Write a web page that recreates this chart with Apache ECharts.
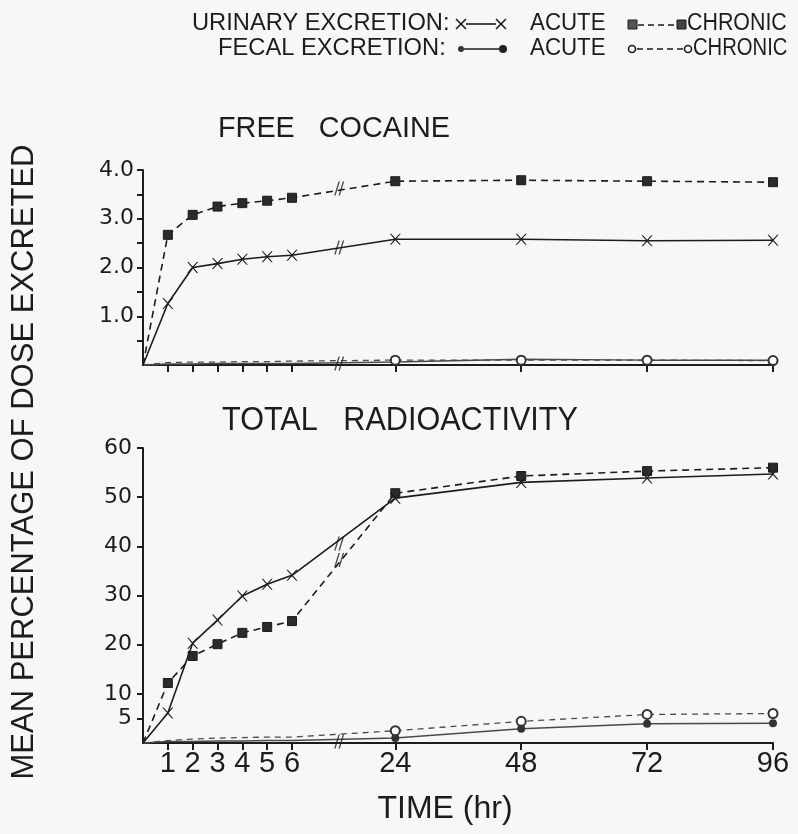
<!DOCTYPE html>
<html>
<head>
<meta charset="utf-8">
<script src="https://cdn.jsdelivr.net/npm/echarts@6/dist/echarts.min.js"></script>
<style>
html,body{margin:0;padding:0;background:#f7f7f5;}
#chart{width:798px;height:834px;}
</style>
</head>
<body>
<div id="chart"></div>
<script>
// ---- data ----
const hours = [0, 1, 2, 3, 4, 5, 6, 24, 48, 72, 96];
const tickHours = [1, 2, 3, 4, 5, 6, 24, 48, 72, 96];
const tickLabels = ['1', '2', '3', '4', '5', '6', '24', '48', '72', '96'];

// Free cocaine (% of dose)
const urinaryAcuteFree   = [0, 1.26, 2.00, 2.08, 2.17, 2.22, 2.25, 2.58, 2.58, 2.55, 2.56];
const urinaryChronicFree = [0, 2.67, 3.08, 3.25, 3.32, 3.37, 3.43, 3.77, 3.79, 3.77, 3.75];
const fecalAcuteFree     = [0, 0.02, 0.02, 0.03, 0.03, 0.03, 0.03, 0.06, 0.12, 0.10, 0.10];
const fecalChronicFree   = [0, 0.05, 0.06, 0.06, 0.07, 0.07, 0.08, 0.10, 0.10, 0.10, 0.09];

// Total radioactivity (% of dose)
const urinaryAcuteTotal   = [0, 6.1, 20.3, 25.0, 29.9, 32.3, 34.1, 49.8, 53.0, 53.9, 54.7];
const urinaryChronicTotal = [0, 12.2, 17.7, 20.1, 22.4, 23.6, 24.8, 50.8, 54.3, 55.3, 56.0];
const fecalAcuteTotal     = [0, 0.3, 0.3, 0.4, 0.4, 0.5, 0.5, 1.0, 2.9, 3.9, 4.0];
const fecalChronicTotal   = [0, 0.5, 0.8, 1.0, 1.1, 1.2, 1.2, 2.5, 4.4, 5.8, 6.0];

// axis-break marks drawn on the curves (values read at the break)
const breakMarksFree  = [3.62, 2.41, 0.03];
const breakMarksTotal = [40.6, 37.2, 0.3];

const yTicksFree  = [0.5, 1, 1.5, 2, 2.5, 3, 3.5, 4];
const yLabelsFree = [1, 2, 3, 4];
const yTicksTotal = [5, 10, 20, 30, 40, 50, 60];

// ---- broken time axis: hours 0-6 expanded, 24-96 compressed ----
function pos(h) { return h <= 6 ? h : 10.16 + (h - 24) * 5.07 / 24; }
const BREAK_POS = 7.9;
const tickPos = tickHours.map(pos);

const INK = '#1c1c1c';
const FECAL = '#4a4a4a';
const BG = '#f7f7f5';
const xPath = 'path://M0,0 L2.4,0 L10,8.2 L17.6,0 L20,0 L11.3,10 L20,20 L17.6,20 L10,11.8 L2.4,20 L0,20 L8.7,10 Z';
const breakPath = 'path://M0,14 L1.6,14 L6.6,0 L5,0 Z M5,14 L6.6,14 L11.6,0 L10,0 Z';

function series(g, vals, kind) {
  const s = {
    type: 'line', xAxisIndex: g, yAxisIndex: g, animation: false, clip: false,
    data: hours.map((h, i) => [pos(h), vals[i]]),
    showSymbol: true
  };
  if (kind === 'ua') {
    Object.assign(s, { symbol: xPath, symbolSize: (v, p) => p.dataIndex === 0 ? 0 : 11,
      lineStyle: { color: INK, width: 1.6 }, itemStyle: { color: INK }, z: 5 });
  } else if (kind === 'uc') {
    Object.assign(s, { symbol: 'rect', symbolSize: (v, p) => p.dataIndex === 0 ? 0 : 9,
      lineStyle: { color: INK, width: 1.6, type: [7, 5] }, itemStyle: { color: '#2b2b2b', borderColor: INK, borderWidth: 1 }, z: 4 });
  } else if (kind === 'fa') {
    Object.assign(s, { symbol: 'circle', symbolSize: (v, p) => p.dataIndex < 7 ? 0 : 8,
      lineStyle: { color: FECAL, width: 1.5 }, itemStyle: { color: '#333' }, z: 3 });
  } else {
    Object.assign(s, { symbol: 'emptyCircle', symbolSize: (v, p) => p.dataIndex < 7 ? 0 : 9,
      lineStyle: { color: FECAL, width: 1.3, type: [6, 5] }, itemStyle: { color: '#333', borderWidth: 1.5 }, z: 4 });
  }
  return s;
}

function breakSeries(g, vals) {
  return {
    type: 'scatter', xAxisIndex: g, yAxisIndex: g, animation: false, clip: false,
    symbol: breakPath, symbolSize: [10, 14], itemStyle: { color: INK }, z: 8,
    data: vals.map(v => [BREAK_POS, v])
  };
}

function xAxis(g) {
  return {
    type: 'value', gridIndex: g, min: 0, max: pos(96),
    axisLine: { show: true, onZero: true, lineStyle: { color: INK, width: 2 } },
    axisTick: { show: true, customValues: tickPos, length: 7, lineStyle: { color: INK, width: 2 } },
    axisLabel: {
      show: g === 1, customValues: tickPos, margin: 6, color: INK,
      fontFamily: 'Liberation Sans', fontSize: 29,
      formatter: v => { const i = tickPos.findIndex(p => Math.abs(p - v) < 1e-6); return i >= 0 ? tickLabels[i] : ''; }
    },
    splitLine: { show: false }
  };
}

const chart = echarts.init(document.getElementById('chart'), null, { renderer: 'canvas' });

const legendFont = '23px "Liberation Sans", Arial, sans-serif';
function txt(text, x, y, font, sx) {
  return { type: 'text', x, y, scaleX: sx || 1,
    style: { text, font, fill: INK, align: 'left', verticalAlign: 'middle', textAlign: 'left', textVerticalAlign: 'middle' } };
}
function seg(x1, y1, x2, y2, dash, w) {
  return { type: 'line', shape: { x1, y1, x2, y2 }, style: { stroke: INK, lineWidth: w || 1.6, lineDash: dash || null } };
}

const graphics = [
  // legend line 1
  txt('URINARY EXCRETION:', 192, 24, legendFont, 1.03),
  seg(456, 19, 466, 29), seg(456, 29, 466, 19), seg(466, 24, 496, 24),
  seg(496, 19, 506, 29), seg(496, 29, 506, 19),
  txt('ACUTE', 530, 24, legendFont, 0.97),
  { type: 'rect', shape: { x: 628, y: 20, width: 9, height: 9 }, style: { fill: '#555', stroke: INK, lineWidth: 1 } },
  seg(638, 25, 677, 25, [6, 4]),
  { type: 'rect', shape: { x: 677, y: 20, width: 9, height: 9 }, style: { fill: '#444', stroke: INK, lineWidth: 1 } },
  txt('CHRONIC', 687, 24, legendFont, 0.93),
  // legend line 2
  txt('FECAL EXCRETION:', 218, 49, legendFont, 1.03),
  { type: 'circle', shape: { cx: 461, cy: 49, r: 3 }, style: { fill: '#333' } },
  seg(464, 49, 500, 49),
  { type: 'circle', shape: { cx: 503, cy: 49, r: 4 }, style: { fill: '#222' } },
  txt('ACUTE', 530, 49, legendFont, 0.97),
  { type: 'circle', shape: { cx: 632, cy: 49, r: 3.5 }, style: { fill: BG, stroke: INK, lineWidth: 1.6 } },
  seg(637, 49, 683, 49, [6, 4]),
  { type: 'circle', shape: { cx: 688, cy: 49, r: 3.5 }, style: { fill: BG, stroke: INK, lineWidth: 1.6 } },
  txt('CHRONIC', 693, 49, legendFont, 0.88),
  // panel titles
  txt('FREE   COCAINE', 218, 129, '30px "Liberation Sans", sans-serif', 0.96),
  txt('TOTAL   RADIOACTIVITY', 222, 421, '34px "Liberation Sans", sans-serif', 0.9),
  // axis titles
  { type: 'text', x: 24, y: 462, rotation: Math.PI / 2,
    style: { text: 'MEAN PERCENTAGE OF DOSE EXCRETED', font: '31px "Liberation Sans", sans-serif', fill: INK,
      align: 'center', verticalAlign: 'middle', textAlign: 'center', textVerticalAlign: 'middle' } },
  { type: 'text', x: 445, y: 809,
    style: { text: 'TIME (hr)', font: '32px "Liberation Sans", sans-serif', fill: INK,
      align: 'center', verticalAlign: 'middle', textAlign: 'center', textVerticalAlign: 'middle' } }
];

chart.setOption({
  backgroundColor: BG,
  animation: false,
  grid: [
    { left: 143, top: 170, width: 630, height: 195 },
    { left: 143, top: 448, width: 630, height: 295 }
  ],
  xAxis: [xAxis(0), xAxis(1)],
  yAxis: [
    {
      type: 'value', gridIndex: 0, min: 0, max: 4, interval: 0.5,
      axisLine: { show: true, lineStyle: { color: INK, width: 2 } },
      axisTick: { show: true, customValues: yTicksFree, length: 6, lineStyle: { color: INK, width: 2 } },
      axisLabel: { customValues: yLabelsFree, margin: 9, color: INK, fontFamily: 'DejaVu Sans', fontSize: 22,
        formatter: v => v.toFixed(1) },
      splitLine: { show: false }
    },
    {
      type: 'value', gridIndex: 1, min: 0, max: 60, interval: 10,
      axisLine: { show: true, lineStyle: { color: INK, width: 2 } },
      axisTick: { show: true, customValues: yTicksTotal, length: 6, lineStyle: { color: INK, width: 2 } },
      axisLabel: { customValues: yTicksTotal, margin: 11, color: INK, fontFamily: 'DejaVu Sans', fontSize: 22 },
      splitLine: { show: false }
    }
  ],
  series: [
    series(0, fecalChronicFree, 'fc'),
    series(0, fecalAcuteFree, 'fa'),
    series(0, urinaryAcuteFree, 'ua'),
    series(0, urinaryChronicFree, 'uc'),
    breakSeries(0, breakMarksFree),
    series(1, fecalChronicTotal, 'fc'),
    series(1, fecalAcuteTotal, 'fa'),
    series(1, urinaryAcuteTotal, 'ua'),
    series(1, urinaryChronicTotal, 'uc'),
    breakSeries(1, breakMarksTotal)
  ],
  graphic: graphics
});
</script>
</body>
</html>
